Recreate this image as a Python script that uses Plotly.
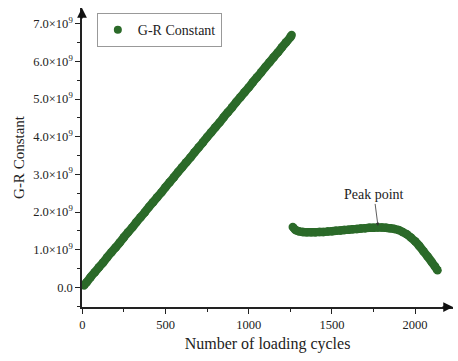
import plotly.graph_objects as go

# Loading-cycle counts and G-R constant values (first, linear stage)
cycles_stage1 = [10, 25, 50, 75, 100, 125, 150, 175, 200, 225, 250, 275, 300, 325, 350,
                 375, 400, 425, 450, 475, 500, 525, 550, 575, 600, 625, 650, 675, 700,
                 725, 750, 775, 800, 825, 850, 875, 900, 925, 950, 975, 1000, 1025,
                 1050, 1075, 1100, 1125, 1150, 1175, 1200, 1225, 1250, 1258]
gr_stage1 = [0.05e9, 0.13e9, 0.27e9, 0.40e9, 0.53e9, 0.66e9, 0.80e9, 0.93e9, 1.06e9,
             1.19e9, 1.33e9, 1.46e9, 1.59e9, 1.73e9, 1.86e9, 1.99e9, 2.13e9, 2.26e9,
             2.39e9, 2.52e9, 2.66e9, 2.79e9, 2.92e9, 3.06e9, 3.19e9, 3.32e9, 3.45e9,
             3.59e9, 3.72e9, 3.85e9, 3.99e9, 4.12e9, 4.25e9, 4.38e9, 4.52e9, 4.65e9,
             4.78e9, 4.92e9, 5.05e9, 5.18e9, 5.31e9, 5.45e9, 5.58e9, 5.71e9, 5.85e9,
             5.98e9, 6.11e9, 6.24e9, 6.38e9, 6.51e9, 6.64e9, 6.70e9]

# Second stage (after the drop)
cycles_stage2 = [1265, 1280, 1300, 1325, 1350, 1375, 1400, 1425, 1450, 1475, 1500, 1525,
                 1550, 1575, 1600, 1625, 1650, 1675, 1700, 1725, 1750, 1775, 1800, 1825,
                 1850, 1875, 1900, 1925, 1950, 1975, 2000, 2025, 2050, 2075, 2100, 2120,
                 2135]
gr_stage2 = [1.60e9, 1.53e9, 1.49e9, 1.47e9, 1.46e9, 1.46e9, 1.46e9, 1.47e9, 1.47e9,
             1.48e9, 1.49e9, 1.50e9, 1.51e9, 1.52e9, 1.53e9, 1.54e9, 1.55e9, 1.56e9,
             1.57e9, 1.58e9, 1.58e9, 1.59e9, 1.59e9, 1.58e9, 1.57e9, 1.55e9, 1.52e9,
             1.47e9, 1.41e9, 1.32e9, 1.22e9, 1.10e9, 0.96e9, 0.82e9, 0.67e9, 0.55e9,
             0.45e9]

peak_cycle = 1777
peak_value = 1.63e9

x_ticks = [0, 500, 1000, 1500, 2000]
y_ticks = [0, 1e9, 2e9, 3e9, 4e9, 5e9, 6e9, 7e9]
y_ticklabels = ["0.0", "1.0×10<sup>9</sup>", "2.0×10<sup>9</sup>", "3.0×10<sup>9</sup>",
                "4.0×10<sup>9</sup>", "5.0×10<sup>9</sup>", "6.0×10<sup>9</sup>",
                "7.0×10<sup>9</sup>"]

GREEN = "#2b6a29"
FONT = "Liberation Serif"

fig = go.Figure()
# Densely recorded points: a thick line under the markers keeps the band continuous
for cyc, val in ((cycles_stage1, gr_stage1), (cycles_stage2, gr_stage2)):
    fig.add_trace(go.Scatter(
        x=cyc, y=val, mode="lines+markers", showlegend=False,
        line=dict(color=GREEN, width=8.5, shape="spline", smoothing=0.6),
        marker=dict(color=GREEN, size=8.5, line=dict(width=0)),
    ))
# Legend entry
fig.add_trace(go.Scatter(
    x=[None], y=[None], mode="markers", name="G-R Constant",
    marker=dict(color=GREEN, size=8, line=dict(width=0)),
))

fig.update_layout(
    width=458, height=361,
    margin=dict(l=82, r=5, t=8, b=54),
    plot_bgcolor="white", paper_bgcolor="white",
    font=dict(family=FONT, color="#222222", size=12),
    showlegend=True,
    legend=dict(
        x=0.04, y=0.983, xanchor="left", yanchor="top",
        bordercolor="#999999", borderwidth=1, bgcolor="white",
        font=dict(family=FONT, size=14, color="#222222"),
        tracegroupgap=0, itemwidth=30,
    ),
    xaxis=dict(
        range=[-2, 2228],
        tickvals=x_ticks,
        ticks="outside", ticklen=5, tickwidth=1, tickcolor="#222222",
        minor=dict(dtick=250, tick0=0, ticks="outside", ticklen=3, tickcolor="#222222"),
        showline=True, linecolor="#222222", linewidth=1.5,
        showgrid=False, zeroline=False,
        tickfont=dict(family=FONT, size=12.5),
        title=dict(text="Number of loading cycles", font=dict(family=FONT, size=16), standoff=7),
    ),
    yaxis=dict(
        range=[-0.524e9, 7.42e9],
        tickvals=y_ticks, ticktext=y_ticklabels,
        ticks="outside", ticklen=5, tickwidth=1, tickcolor="#222222",
        minor=dict(dtick=0.5e9, tick0=0, ticks="outside", ticklen=3, tickcolor="#222222"),
        showline=True, linecolor="#222222", linewidth=1.5,
        showgrid=False, zeroline=False,
        tickfont=dict(family=FONT, size=12.5),
        title=dict(text="G-R Constant", font=dict(family=FONT, size=15), standoff=5),
    ),
)

# Arrowheads at the ends of both axes
fig.add_annotation(xref="paper", yref="paper", x=1, y=0, ax=-12, ay=0,
                   axref="pixel", ayref="pixel", text="", showarrow=True,
                   arrowhead=2, arrowsize=1.3, arrowwidth=1.5, arrowcolor="#111111")
fig.add_annotation(xref="paper", yref="paper", x=0, y=1, ax=0, ay=12,
                   axref="pixel", ayref="pixel", text="", showarrow=True,
                   arrowhead=2, arrowsize=1.3, arrowwidth=1.5, arrowcolor="#111111")

# Peak label
fig.add_annotation(x=peak_cycle, y=peak_value, ax=-4, ay=-31,
                   text="Peak point", showarrow=True, arrowhead=2, arrowsize=0.8,
                   arrowwidth=0.8, arrowcolor="#333333",
                   font=dict(family=FONT, size=14, color="#222222"))

fig.write_html("out.html")
